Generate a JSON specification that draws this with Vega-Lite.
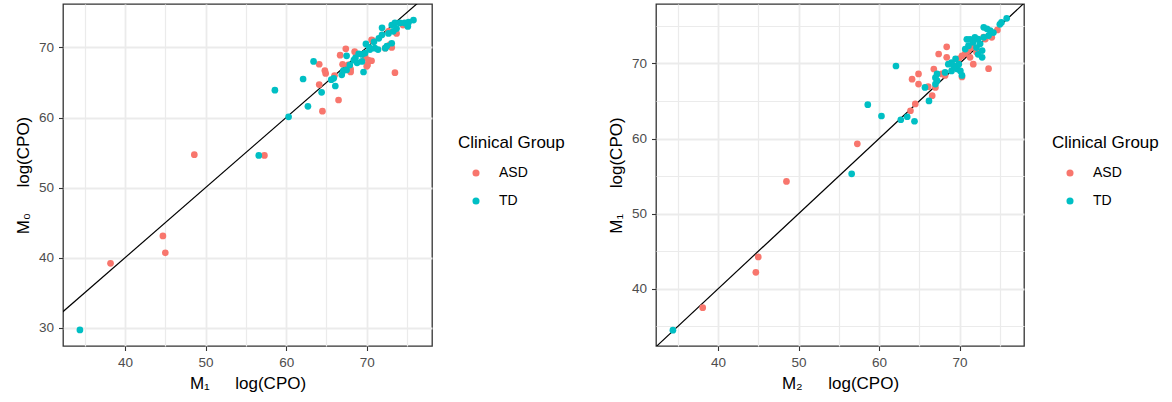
{
  "$schema": "https://vega.github.io/schema/vega-lite/v6.json",
  "padding": {"left": 13, "top": 3, "right": 0, "bottom": 0},
  "autosize": {"type": "pad"},
  "datasets": {
    "idline": [{"x": 30, "y": 30}, {"x": 80, "y": 80}],
    "p1": [
      {"x": 38.2, "y": 39.2, "g": "ASD"}, {"x": 44.7, "y": 43.1, "g": "ASD"}, {"x": 45.0, "y": 40.7, "g": "ASD"}, {"x": 48.6, "y": 54.7, "g": "ASD"},
      {"x": 57.3, "y": 54.6, "g": "ASD"}, {"x": 64.1, "y": 67.6, "g": "ASD"}, {"x": 64.1, "y": 64.7, "g": "ASD"}, {"x": 64.5, "y": 60.9, "g": "ASD"},
      {"x": 64.8, "y": 66.7, "g": "ASD"}, {"x": 64.9, "y": 66.3, "g": "ASD"}, {"x": 66.0, "y": 66.0, "g": "ASD"}, {"x": 66.5, "y": 62.5, "g": "ASD"},
      {"x": 66.7, "y": 68.9, "g": "ASD"}, {"x": 67.4, "y": 69.8, "g": "ASD"}, {"x": 67.0, "y": 67.6, "g": "ASD"}, {"x": 67.7, "y": 67.5, "g": "ASD"},
      {"x": 68.0, "y": 66.9, "g": "ASD"}, {"x": 68.0, "y": 66.5, "g": "ASD"}, {"x": 68.5, "y": 69.4, "g": "ASD"}, {"x": 69.8, "y": 68.7, "g": "ASD"},
      {"x": 70.1, "y": 67.5, "g": "ASD"}, {"x": 70.6, "y": 68.1, "g": "ASD"}, {"x": 70.2, "y": 68.2, "g": "ASD"}, {"x": 70.0, "y": 67.3, "g": "ASD"},
      {"x": 70.7, "y": 71.0, "g": "ASD"}, {"x": 70.6, "y": 71.1, "g": "ASD"}, {"x": 72.3, "y": 69.9, "g": "ASD"}, {"x": 72.9, "y": 70.4, "g": "ASD"},
      {"x": 73.1, "y": 70.0, "g": "ASD"}, {"x": 73.5, "y": 66.4, "g": "ASD"}, {"x": 72.7, "y": 72.3, "g": "ASD"}, {"x": 73.7, "y": 72.0, "g": "ASD"},
      {"x": 74.5, "y": 73.2, "g": "ASD"}, {"x": 74.9, "y": 73.3, "g": "ASD"},
      {"x": 34.4, "y": 29.7, "g": "TD"}, {"x": 56.6, "y": 54.6, "g": "TD"}, {"x": 58.6, "y": 63.9, "g": "TD"}, {"x": 60.3, "y": 60.1, "g": "TD"},
      {"x": 62.1, "y": 65.5, "g": "TD"}, {"x": 62.7, "y": 61.6, "g": "TD"}, {"x": 63.4, "y": 68.0, "g": "TD"}, {"x": 64.4, "y": 63.6, "g": "TD"},
      {"x": 65.6, "y": 65.4, "g": "TD"}, {"x": 66.1, "y": 64.5, "g": "TD"}, {"x": 65.9, "y": 65.6, "g": "TD"}, {"x": 66.9, "y": 66.1, "g": "TD"},
      {"x": 67.1, "y": 66.7, "g": "TD"}, {"x": 67.5, "y": 66.8, "g": "TD"}, {"x": 67.5, "y": 68.8, "g": "TD"}, {"x": 67.9, "y": 67.5, "g": "TD"},
      {"x": 68.4, "y": 68.2, "g": "TD"}, {"x": 68.6, "y": 68.5, "g": "TD"}, {"x": 68.8, "y": 67.8, "g": "TD"}, {"x": 69.0, "y": 69.1, "g": "TD"},
      {"x": 69.4, "y": 69.0, "g": "TD"}, {"x": 69.4, "y": 68.0, "g": "TD"}, {"x": 69.6, "y": 66.5, "g": "TD"}, {"x": 69.8, "y": 69.2, "g": "TD"},
      {"x": 69.9, "y": 70.5, "g": "TD"}, {"x": 70.3, "y": 70.0, "g": "TD"}, {"x": 70.4, "y": 69.7, "g": "TD"}, {"x": 70.9, "y": 70.8, "g": "TD"},
      {"x": 71.0, "y": 69.9, "g": "TD"}, {"x": 71.4, "y": 69.7, "g": "TD"}, {"x": 71.5, "y": 71.3, "g": "TD"}, {"x": 71.9, "y": 71.8, "g": "TD"},
      {"x": 71.9, "y": 72.8, "g": "TD"}, {"x": 72.3, "y": 69.9, "g": "TD"}, {"x": 72.5, "y": 70.2, "g": "TD"}, {"x": 72.7, "y": 72.0, "g": "TD"},
      {"x": 73.1, "y": 70.6, "g": "TD"}, {"x": 73.1, "y": 73.2, "g": "TD"}, {"x": 73.3, "y": 72.3, "g": "TD"}, {"x": 73.5, "y": 73.5, "g": "TD"},
      {"x": 73.7, "y": 72.7, "g": "TD"}, {"x": 74.1, "y": 73.5, "g": "TD"}, {"x": 74.7, "y": 73.5, "g": "TD"}, {"x": 75.1, "y": 73.0, "g": "TD"},
      {"x": 75.2, "y": 73.6, "g": "TD"}, {"x": 75.8, "y": 73.9, "g": "TD"}
    ],
    "p2": [
      {"x": 38.1, "y": 37.5, "g": "ASD"}, {"x": 44.7, "y": 42.2, "g": "ASD"}, {"x": 45.0, "y": 44.25, "g": "ASD"}, {"x": 48.5, "y": 54.3, "g": "ASD"},
      {"x": 57.3, "y": 59.3, "g": "ASD"}, {"x": 63.9, "y": 63.7, "g": "ASD"}, {"x": 64.1, "y": 67.9, "g": "ASD"}, {"x": 64.5, "y": 64.6, "g": "ASD"},
      {"x": 64.9, "y": 68.6, "g": "ASD"}, {"x": 64.9, "y": 67.25, "g": "ASD"}, {"x": 66.1, "y": 66.9, "g": "ASD"}, {"x": 66.6, "y": 65.7, "g": "ASD"},
      {"x": 66.8, "y": 69.25, "g": "ASD"}, {"x": 67.0, "y": 66.8, "g": "ASD"}, {"x": 67.4, "y": 71.25, "g": "ASD"}, {"x": 67.8, "y": 68.6, "g": "ASD"},
      {"x": 68.2, "y": 68.4, "g": "ASD"}, {"x": 68.4, "y": 72.2, "g": "ASD"}, {"x": 68.4, "y": 70.8, "g": "ASD"}, {"x": 69.9, "y": 70.6, "g": "ASD"},
      {"x": 70.3, "y": 71.0, "g": "ASD"}, {"x": 70.3, "y": 68.2, "g": "ASD"}, {"x": 70.7, "y": 71.3, "g": "ASD"}, {"x": 71.1, "y": 71.7, "g": "ASD"},
      {"x": 71.3, "y": 70.8, "g": "ASD"}, {"x": 71.5, "y": 72.1, "g": "ASD"}, {"x": 71.7, "y": 69.9, "g": "ASD"}, {"x": 72.1, "y": 71.5, "g": "ASD"},
      {"x": 73.0, "y": 73.5, "g": "ASD"}, {"x": 73.2, "y": 73.24, "g": "ASD"}, {"x": 73.6, "y": 69.3, "g": "ASD"}, {"x": 74.0, "y": 73.46, "g": "ASD"},
      {"x": 74.7, "y": 74.45, "g": "ASD"},
      {"x": 34.4, "y": 34.5, "g": "TD"}, {"x": 56.6, "y": 55.3, "g": "TD"}, {"x": 58.6, "y": 64.5, "g": "TD"}, {"x": 60.3, "y": 63.0, "g": "TD"},
      {"x": 62.1, "y": 69.65, "g": "TD"}, {"x": 62.7, "y": 62.5, "g": "TD"}, {"x": 63.5, "y": 62.9, "g": "TD"}, {"x": 64.4, "y": 62.3, "g": "TD"},
      {"x": 65.7, "y": 66.8, "g": "TD"}, {"x": 66.2, "y": 65.0, "g": "TD"}, {"x": 67.0, "y": 67.25, "g": "TD"}, {"x": 67.2, "y": 67.7, "g": "TD"},
      {"x": 67.0, "y": 68.1, "g": "TD"}, {"x": 67.2, "y": 68.6, "g": "TD"}, {"x": 68.2, "y": 68.8, "g": "TD"}, {"x": 68.6, "y": 69.9, "g": "TD"},
      {"x": 69.0, "y": 69.0, "g": "TD"}, {"x": 69.7, "y": 69.25, "g": "TD"}, {"x": 70.1, "y": 69.0, "g": "TD"}, {"x": 70.3, "y": 68.4, "g": "TD"},
      {"x": 69.25, "y": 69.7, "g": "TD"}, {"x": 69.9, "y": 69.9, "g": "TD"}, {"x": 69.0, "y": 70.1, "g": "TD"}, {"x": 69.5, "y": 70.6, "g": "TD"},
      {"x": 70.7, "y": 71.9, "g": "TD"}, {"x": 71.1, "y": 72.35, "g": "TD"}, {"x": 72.8, "y": 70.8, "g": "TD"}, {"x": 72.3, "y": 71.2, "g": "TD"},
      {"x": 72.8, "y": 71.7, "g": "TD"}, {"x": 72.1, "y": 72.1, "g": "TD"}, {"x": 72.55, "y": 72.6, "g": "TD"}, {"x": 71.7, "y": 72.8, "g": "TD"},
      {"x": 70.9, "y": 73.2, "g": "TD"}, {"x": 71.3, "y": 73.2, "g": "TD"}, {"x": 71.9, "y": 73.46, "g": "TD"}, {"x": 72.3, "y": 73.24, "g": "TD"},
      {"x": 73.0, "y": 73.46, "g": "TD"}, {"x": 73.6, "y": 73.7, "g": "TD"}, {"x": 74.2, "y": 74.1, "g": "TD"}, {"x": 73.8, "y": 74.35, "g": "TD"},
      {"x": 73.4, "y": 74.6, "g": "TD"}, {"x": 73.0, "y": 74.8, "g": "TD"}, {"x": 75.0, "y": 75.2, "g": "TD"}, {"x": 75.2, "y": 75.45, "g": "TD"},
      {"x": 75.85, "y": 76.0, "g": "TD"}
    ]
  },
  "spacing": 40,
  "resolve": {"scale": {"color": "independent"}, "legend": {"color": "independent"}},
  "hconcat": [
    {
      "width": 369,
      "height": 342,
      "layer": [
        {
          "data": {"name": "idline"},
          "mark": {"type": "line", "color": "black", "strokeWidth": 1.2, "clip": true},
          "encoding": {
            "x": {"field": "x", "type": "quantitative", "scale": {"domain": [32.3, 78.1], "nice": false, "zero": false},
              "axis": {"title": "M₁\u2003\u2002log(CPO)", "values": [35, 40, 45, 50, 55, 60, 65, 70, 75],
                "labelExpr": "datum.value % 10 === 0 ? datum.label : ''",
                "gridWidth": {"condition": {"test": "datum.value % 10 === 0", "value": 1.8}, "value": 1.2},
                "tickOpacity": {"condition": {"test": "datum.value % 10 === 0", "value": 1}, "value": 0}}},
            "y": {"field": "y", "type": "quantitative", "scale": {"domain": [27.4, 76.2], "nice": false, "zero": false},
              "axis": {"title": "M₀\u2003\u2002log(CPO)", "values": [30, 35, 40, 45, 50, 55, 60, 65, 70, 75],
                "labelExpr": "datum.value % 10 === 0 ? datum.label : ''",
                "gridWidth": {"condition": {"test": "datum.value % 10 === 0", "value": 1.8}, "value": 1.2},
                "tickOpacity": {"condition": {"test": "datum.value % 10 === 0", "value": 1}, "value": 0}}}
          }
        },
        {
          "data": {"name": "p1"},
          "mark": {"type": "point", "filled": true, "size": 45, "opacity": 1},
          "encoding": {
            "x": {"field": "x", "type": "quantitative"},
            "y": {"field": "y", "type": "quantitative"},
            "color": {"field": "g", "type": "nominal", "scale": {"domain": ["ASD", "TD"], "range": ["#F8766D", "#00BFC4"]},
              "legend": {"title": "Clinical Group", "orient": "none", "legendX": 395, "legendY": 131}}
          }
        }
      ]
    },
    {
      "width": 368,
      "height": 342,
      "layer": [
        {
          "data": {"name": "idline"},
          "mark": {"type": "line", "color": "black", "strokeWidth": 1.2, "clip": true},
          "encoding": {
            "x": {"field": "x", "type": "quantitative", "scale": {"domain": [32.3, 78.0], "nice": false, "zero": false},
              "axis": {"title": "M₂\u2003\u2002log(CPO)", "values": [35, 40, 45, 50, 55, 60, 65, 70, 75],
                "labelExpr": "datum.value % 10 === 0 ? datum.label : ''",
                "gridWidth": {"condition": {"test": "datum.value % 10 === 0", "value": 1.8}, "value": 1.2},
                "tickOpacity": {"condition": {"test": "datum.value % 10 === 0", "value": 1}, "value": 0}}},
            "y": {"field": "y", "type": "quantitative", "scale": {"domain": [32.4, 77.9], "nice": false, "zero": false},
              "axis": {"title": "M₁\u2003\u2002log(CPO)", "values": [35, 40, 45, 50, 55, 60, 65, 70, 75],
                "labelExpr": "datum.value % 10 === 0 ? datum.label : ''",
                "gridWidth": {"condition": {"test": "datum.value % 10 === 0", "value": 1.8}, "value": 1.2},
                "tickOpacity": {"condition": {"test": "datum.value % 10 === 0", "value": 1}, "value": 0}}}
          }
        },
        {
          "data": {"name": "p2"},
          "mark": {"type": "point", "filled": true, "size": 45, "opacity": 1},
          "encoding": {
            "x": {"field": "x", "type": "quantitative"},
            "y": {"field": "y", "type": "quantitative"},
            "color": {"field": "g", "type": "nominal", "scale": {"domain": ["ASD", "TD"], "range": ["#F8766D", "#00BFC4"]},
              "legend": {"title": "Clinical Group", "orient": "none", "legendX": 396, "legendY": 131}}
          }
        }
      ]
    }
  ],
  "config": {
    "font": "Liberation Sans",
    "background": "white",
    "view": {"stroke": "#333333", "strokeWidth": 1.3},
    "axis": {
      "domain": false,
      "tickColor": "#333333",
      "tickSize": 4.5,
      "tickWidth": 1.1,
      "labelColor": "#4D4D4D",
      "labelFontSize": 13.5,
      "labelPadding": 5,
      "labelOverlap": false,
      "titleFontSize": 17,
      "titleFontWeight": "normal",
      "titleColor": "#000000",
      "titlePadding": 6,
      "gridColor": "#EBEBEB"
    },
    "legend": {
      "titleFontSize": 17,
      "titleFontWeight": "normal",
      "titleColor": "#000000",
      "labelFontSize": 14,
      "labelColor": "#000000",
      "symbolSize": 50,
      "symbolType": "circle",
      "symbolOffset": 11,
      "symbolStrokeWidth": 0,
      "rowPadding": 14,
      "titlePadding": 14,
      "labelOffset": 16
    }
  }
}
